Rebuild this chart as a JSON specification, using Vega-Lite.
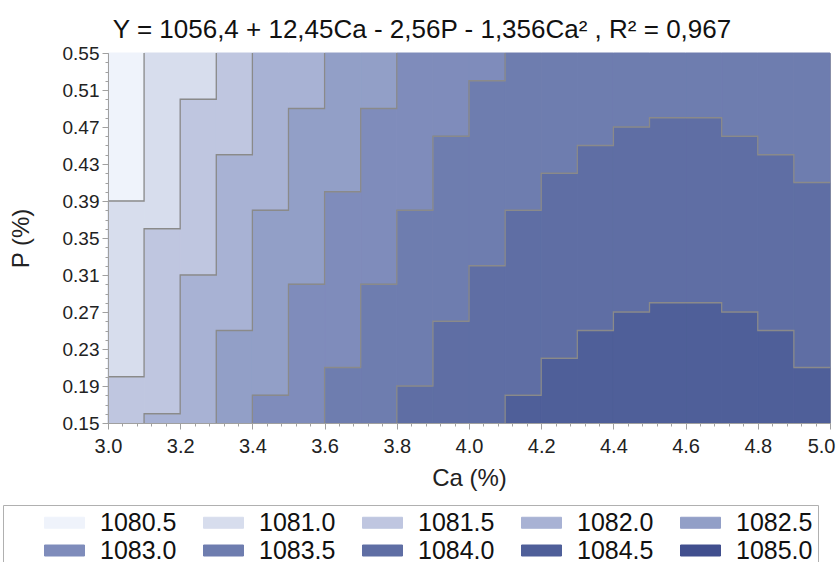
{
  "$schema": "https://vega.github.io/schema/vega-lite/v6.json",
  "autosize": {"type": "none"},
  "width": 722,
  "height": 370,
  "padding": {"left": 108, "top": 53, "right": 8, "bottom": 139},
  "background": "white",
  "config": {
    "font": "Liberation Sans",
    "view": {"stroke": "#a0a0a0", "strokeWidth": 1},
    "axis": {"labelFont": "Liberation Sans", "titleFont": "Liberation Sans", "labelColor": "#222", "titleColor": "#222", "domainColor": "#a0a0a0", "tickColor": "#a0a0a0", "grid": false, "titleFontWeight": "normal"},
    "legend": {"symbolStrokeColor": "#888888", "symbolStrokeWidth": 1}
  },
  "title": {"text": "Y = 1056,4 + 12,45Ca - 2,56P - 1,356Ca² , R² = 0,967", "fontSize": 26, "fontWeight": "normal", "font": "Liberation Sans", "color": "#111", "offset": 1, "anchor": "middle", "dx": -47},
  "datasets": {
    "cells": [
      {"ca0": 3.0, "ca1": 3.1, "p0": 0.39, "p1": 0.55, "level": "1080.5"},
      {"ca0": 3.0, "ca1": 3.1, "p0": 0.20, "p1": 0.39, "level": "1081.0"},
      {"ca0": 3.0, "ca1": 3.1, "p0": 0.15, "p1": 0.20, "level": "1081.5"},
      {"ca0": 3.1, "ca1": 3.2, "p0": 0.36, "p1": 0.55, "level": "1081.0"},
      {"ca0": 3.1, "ca1": 3.2, "p0": 0.16, "p1": 0.36, "level": "1081.5"},
      {"ca0": 3.1, "ca1": 3.2, "p0": 0.15, "p1": 0.16, "level": "1082.0"},
      {"ca0": 3.2, "ca1": 3.3, "p0": 0.50, "p1": 0.55, "level": "1081.0"},
      {"ca0": 3.2, "ca1": 3.3, "p0": 0.31, "p1": 0.50, "level": "1081.5"},
      {"ca0": 3.2, "ca1": 3.3, "p0": 0.15, "p1": 0.31, "level": "1082.0"},
      {"ca0": 3.3, "ca1": 3.4, "p0": 0.44, "p1": 0.55, "level": "1081.5"},
      {"ca0": 3.3, "ca1": 3.4, "p0": 0.25, "p1": 0.44, "level": "1082.0"},
      {"ca0": 3.3, "ca1": 3.4, "p0": 0.15, "p1": 0.25, "level": "1082.5"},
      {"ca0": 3.4, "ca1": 3.5, "p0": 0.38, "p1": 0.55, "level": "1082.0"},
      {"ca0": 3.4, "ca1": 3.5, "p0": 0.18, "p1": 0.38, "level": "1082.5"},
      {"ca0": 3.4, "ca1": 3.5, "p0": 0.15, "p1": 0.18, "level": "1083.0"},
      {"ca0": 3.5, "ca1": 3.6, "p0": 0.49, "p1": 0.55, "level": "1082.0"},
      {"ca0": 3.5, "ca1": 3.6, "p0": 0.30, "p1": 0.49, "level": "1082.5"},
      {"ca0": 3.5, "ca1": 3.6, "p0": 0.15, "p1": 0.30, "level": "1083.0"},
      {"ca0": 3.6, "ca1": 3.7, "p0": 0.40, "p1": 0.55, "level": "1082.5"},
      {"ca0": 3.6, "ca1": 3.7, "p0": 0.21, "p1": 0.40, "level": "1083.0"},
      {"ca0": 3.6, "ca1": 3.7, "p0": 0.15, "p1": 0.21, "level": "1083.5"},
      {"ca0": 3.7, "ca1": 3.8, "p0": 0.49, "p1": 0.55, "level": "1082.5"},
      {"ca0": 3.7, "ca1": 3.8, "p0": 0.30, "p1": 0.49, "level": "1083.0"},
      {"ca0": 3.7, "ca1": 3.8, "p0": 0.15, "p1": 0.30, "level": "1083.5"},
      {"ca0": 3.8, "ca1": 3.9, "p0": 0.38, "p1": 0.55, "level": "1083.0"},
      {"ca0": 3.8, "ca1": 3.9, "p0": 0.19, "p1": 0.38, "level": "1083.5"},
      {"ca0": 3.8, "ca1": 3.9, "p0": 0.15, "p1": 0.19, "level": "1084.0"},
      {"ca0": 3.9, "ca1": 4.0, "p0": 0.46, "p1": 0.55, "level": "1083.0"},
      {"ca0": 3.9, "ca1": 4.0, "p0": 0.26, "p1": 0.46, "level": "1083.5"},
      {"ca0": 3.9, "ca1": 4.0, "p0": 0.15, "p1": 0.26, "level": "1084.0"},
      {"ca0": 4.0, "ca1": 4.1, "p0": 0.52, "p1": 0.55, "level": "1083.0"},
      {"ca0": 4.0, "ca1": 4.1, "p0": 0.32, "p1": 0.52, "level": "1083.5"},
      {"ca0": 4.0, "ca1": 4.1, "p0": 0.15, "p1": 0.32, "level": "1084.0"},
      {"ca0": 4.1, "ca1": 4.2, "p0": 0.38, "p1": 0.55, "level": "1083.5"},
      {"ca0": 4.1, "ca1": 4.2, "p0": 0.18, "p1": 0.38, "level": "1084.0"},
      {"ca0": 4.1, "ca1": 4.2, "p0": 0.15, "p1": 0.18, "level": "1084.5"},
      {"ca0": 4.2, "ca1": 4.3, "p0": 0.42, "p1": 0.55, "level": "1083.5"},
      {"ca0": 4.2, "ca1": 4.3, "p0": 0.22, "p1": 0.42, "level": "1084.0"},
      {"ca0": 4.2, "ca1": 4.3, "p0": 0.15, "p1": 0.22, "level": "1084.5"},
      {"ca0": 4.3, "ca1": 4.4, "p0": 0.45, "p1": 0.55, "level": "1083.5"},
      {"ca0": 4.3, "ca1": 4.4, "p0": 0.25, "p1": 0.45, "level": "1084.0"},
      {"ca0": 4.3, "ca1": 4.4, "p0": 0.15, "p1": 0.25, "level": "1084.5"},
      {"ca0": 4.4, "ca1": 4.5, "p0": 0.47, "p1": 0.55, "level": "1083.5"},
      {"ca0": 4.4, "ca1": 4.5, "p0": 0.27, "p1": 0.47, "level": "1084.0"},
      {"ca0": 4.4, "ca1": 4.5, "p0": 0.15, "p1": 0.27, "level": "1084.5"},
      {"ca0": 4.5, "ca1": 4.6, "p0": 0.48, "p1": 0.55, "level": "1083.5"},
      {"ca0": 4.5, "ca1": 4.6, "p0": 0.28, "p1": 0.48, "level": "1084.0"},
      {"ca0": 4.5, "ca1": 4.6, "p0": 0.15, "p1": 0.28, "level": "1084.5"},
      {"ca0": 4.6, "ca1": 4.7, "p0": 0.48, "p1": 0.55, "level": "1083.5"},
      {"ca0": 4.6, "ca1": 4.7, "p0": 0.28, "p1": 0.48, "level": "1084.0"},
      {"ca0": 4.6, "ca1": 4.7, "p0": 0.15, "p1": 0.28, "level": "1084.5"},
      {"ca0": 4.7, "ca1": 4.8, "p0": 0.46, "p1": 0.55, "level": "1083.5"},
      {"ca0": 4.7, "ca1": 4.8, "p0": 0.27, "p1": 0.46, "level": "1084.0"},
      {"ca0": 4.7, "ca1": 4.8, "p0": 0.15, "p1": 0.27, "level": "1084.5"},
      {"ca0": 4.8, "ca1": 4.9, "p0": 0.44, "p1": 0.55, "level": "1083.5"},
      {"ca0": 4.8, "ca1": 4.9, "p0": 0.25, "p1": 0.44, "level": "1084.0"},
      {"ca0": 4.8, "ca1": 4.9, "p0": 0.15, "p1": 0.25, "level": "1084.5"},
      {"ca0": 4.9, "ca1": 5.0, "p0": 0.41, "p1": 0.55, "level": "1083.5"},
      {"ca0": 4.9, "ca1": 5.0, "p0": 0.21, "p1": 0.41, "level": "1084.0"},
      {"ca0": 4.9, "ca1": 5.0, "p0": 0.15, "p1": 0.21, "level": "1084.5"}
    ],
    "contours": [
      {"c": "AB", "s": 1, "ca": 3.0, "p": 0.39}, {"c": "AB", "s": 2, "ca": 3.1, "p": 0.39}, {"c": "AB", "s": 3, "ca": 3.1, "p": 0.55},
      {"c": "BC", "s": 1, "ca": 3.0, "p": 0.20}, {"c": "BC", "s": 2, "ca": 3.1, "p": 0.20}, {"c": "BC", "s": 3, "ca": 3.1, "p": 0.36}, {"c": "BC", "s": 4, "ca": 3.2, "p": 0.36}, {"c": "BC", "s": 5, "ca": 3.2, "p": 0.50}, {"c": "BC", "s": 6, "ca": 3.3, "p": 0.50}, {"c": "BC", "s": 7, "ca": 3.3, "p": 0.55},
      {"c": "CD", "s": 1, "ca": 3.1, "p": 0.15}, {"c": "CD", "s": 2, "ca": 3.1, "p": 0.16}, {"c": "CD", "s": 3, "ca": 3.2, "p": 0.16}, {"c": "CD", "s": 4, "ca": 3.2, "p": 0.31}, {"c": "CD", "s": 5, "ca": 3.3, "p": 0.31}, {"c": "CD", "s": 6, "ca": 3.3, "p": 0.44}, {"c": "CD", "s": 7, "ca": 3.4, "p": 0.44}, {"c": "CD", "s": 8, "ca": 3.4, "p": 0.55},
      {"c": "DE", "s": 1, "ca": 3.3, "p": 0.15}, {"c": "DE", "s": 2, "ca": 3.3, "p": 0.25}, {"c": "DE", "s": 3, "ca": 3.4, "p": 0.25}, {"c": "DE", "s": 4, "ca": 3.4, "p": 0.38}, {"c": "DE", "s": 5, "ca": 3.5, "p": 0.38}, {"c": "DE", "s": 6, "ca": 3.5, "p": 0.49}, {"c": "DE", "s": 7, "ca": 3.6, "p": 0.49}, {"c": "DE", "s": 8, "ca": 3.6, "p": 0.55},
      {"c": "EF", "s": 1, "ca": 3.4, "p": 0.15}, {"c": "EF", "s": 2, "ca": 3.4, "p": 0.18}, {"c": "EF", "s": 3, "ca": 3.5, "p": 0.18}, {"c": "EF", "s": 4, "ca": 3.5, "p": 0.30}, {"c": "EF", "s": 5, "ca": 3.6, "p": 0.30}, {"c": "EF", "s": 6, "ca": 3.6, "p": 0.40}, {"c": "EF", "s": 7, "ca": 3.7, "p": 0.40}, {"c": "EF", "s": 8, "ca": 3.7, "p": 0.49}, {"c": "EF", "s": 9, "ca": 3.8, "p": 0.49}, {"c": "EF", "s": 10, "ca": 3.8, "p": 0.55},
      {"c": "FG", "s": 1, "ca": 3.6, "p": 0.15}, {"c": "FG", "s": 2, "ca": 3.6, "p": 0.21}, {"c": "FG", "s": 3, "ca": 3.7, "p": 0.21}, {"c": "FG", "s": 4, "ca": 3.7, "p": 0.30}, {"c": "FG", "s": 5, "ca": 3.8, "p": 0.30}, {"c": "FG", "s": 6, "ca": 3.8, "p": 0.38}, {"c": "FG", "s": 7, "ca": 3.9, "p": 0.38}, {"c": "FG", "s": 8, "ca": 3.9, "p": 0.46}, {"c": "FG", "s": 9, "ca": 4.0, "p": 0.46}, {"c": "FG", "s": 10, "ca": 4.0, "p": 0.52}, {"c": "FG", "s": 11, "ca": 4.1, "p": 0.52}, {"c": "FG", "s": 12, "ca": 4.1, "p": 0.55},
      {"c": "GH", "s": 1, "ca": 3.8, "p": 0.15}, {"c": "GH", "s": 2, "ca": 3.8, "p": 0.19}, {"c": "GH", "s": 3, "ca": 3.9, "p": 0.19}, {"c": "GH", "s": 4, "ca": 3.9, "p": 0.26}, {"c": "GH", "s": 5, "ca": 4.0, "p": 0.26}, {"c": "GH", "s": 6, "ca": 4.0, "p": 0.32}, {"c": "GH", "s": 7, "ca": 4.1, "p": 0.32}, {"c": "GH", "s": 8, "ca": 4.1, "p": 0.38}, {"c": "GH", "s": 9, "ca": 4.2, "p": 0.38}, {"c": "GH", "s": 10, "ca": 4.2, "p": 0.42}, {"c": "GH", "s": 11, "ca": 4.3, "p": 0.42}, {"c": "GH", "s": 12, "ca": 4.3, "p": 0.45}, {"c": "GH", "s": 13, "ca": 4.4, "p": 0.45}, {"c": "GH", "s": 14, "ca": 4.4, "p": 0.47}, {"c": "GH", "s": 15, "ca": 4.5, "p": 0.47}, {"c": "GH", "s": 16, "ca": 4.5, "p": 0.48}, {"c": "GH", "s": 17, "ca": 4.7, "p": 0.48}, {"c": "GH", "s": 18, "ca": 4.7, "p": 0.46}, {"c": "GH", "s": 19, "ca": 4.8, "p": 0.46}, {"c": "GH", "s": 20, "ca": 4.8, "p": 0.44}, {"c": "GH", "s": 21, "ca": 4.9, "p": 0.44}, {"c": "GH", "s": 22, "ca": 4.9, "p": 0.41}, {"c": "GH", "s": 23, "ca": 5.0, "p": 0.41},
      {"c": "HI", "s": 1, "ca": 4.1, "p": 0.15}, {"c": "HI", "s": 2, "ca": 4.1, "p": 0.18}, {"c": "HI", "s": 3, "ca": 4.2, "p": 0.18}, {"c": "HI", "s": 4, "ca": 4.2, "p": 0.22}, {"c": "HI", "s": 5, "ca": 4.3, "p": 0.22}, {"c": "HI", "s": 6, "ca": 4.3, "p": 0.25}, {"c": "HI", "s": 7, "ca": 4.4, "p": 0.25}, {"c": "HI", "s": 8, "ca": 4.4, "p": 0.27}, {"c": "HI", "s": 9, "ca": 4.5, "p": 0.27}, {"c": "HI", "s": 10, "ca": 4.5, "p": 0.28}, {"c": "HI", "s": 11, "ca": 4.7, "p": 0.28}, {"c": "HI", "s": 12, "ca": 4.7, "p": 0.27}, {"c": "HI", "s": 13, "ca": 4.8, "p": 0.27}, {"c": "HI", "s": 14, "ca": 4.8, "p": 0.25}, {"c": "HI", "s": 15, "ca": 4.9, "p": 0.25}, {"c": "HI", "s": 16, "ca": 4.9, "p": 0.21}, {"c": "HI", "s": 17, "ca": 5.0, "p": 0.21}
    ]
  },
  "layer": [
    {
      "data": {"name": "cells"},
      "mark": {"type": "rect"},
      "encoding": {
        "x": {"field": "ca0", "type": "quantitative", "scale": {"domain": [3, 5], "nice": false, "zero": false},
              "axis": {"title": "Ca (%)", "values": [3.0, 3.2, 3.4, 3.6, 3.8, 4.0, 4.2, 4.4, 4.6, 4.8, 5.0], "format": ".1f", "labelFontSize": 20, "titleFontSize": 24, "tickSize": 6, "labelPadding": 7, "titlePadding": 10, "labelFlush": false, "zindex": 1,
                       "labelAlign": {"condition": {"test": "datum.value >= 4.99", "value": "right"}, "value": "center"},
                       "labelOffset": {"condition": {"test": "datum.value >= 4.99", "value": 5}, "value": 0}}},
        "x2": {"field": "ca1"},
        "y": {"field": "p0", "type": "quantitative", "scale": {"domain": [0.15, 0.55], "nice": false, "zero": false},
              "axis": {"title": "P (%)", "values": [0.15, 0.19, 0.23, 0.27, 0.31, 0.35, 0.39, 0.43, 0.47, 0.51, 0.55], "format": ".2f", "labelFontSize": 19, "titleFontSize": 24, "tickSize": 6, "labelPadding": 3, "titlePadding": 29, "zindex": 1}},
        "y2": {"field": "p1"},
        "color": {"field": "level", "type": "nominal",
          "scale": {"domain": ["1080.5", "1081.0", "1081.5", "1082.0", "1082.5", "1083.0", "1083.5", "1084.0", "1084.5", "1085.0"],
                    "range": ["#eff3fb", "#d7dded", "#bfc6e0", "#a8b2d4", "#929fc7", "#7f8cbb", "#6e7daf", "#5f6ea4", "#4f5f99", "#414f8e"]},
          "legend": {"title": " ", "titleOrient": "left", "titlePadding": 47, "titleFontSize": 4, "orient": "none", "legendX": -105, "legendY": 452, "columns": 5, "direction": "horizontal",
                     "symbolType": "M-2.3,-0.55H1.7V0.55H-2.3Z", "symbolSize": 400, "symbolOffset": 0, "symbolStrokeColor": "#888888", "symbolStrokeWidth": 1,
                     "labelFontSize": 25, "labelFont": "Liberation Sans", "labelColor": "#111", "labelOffset": 20, "columnPadding": 24, "rowPadding": 2,
                     "padding": 5, "strokeColor": "#b0b0b0", "fillColor": "white"}}
      }
    },
    {
      "data": {"name": "cells"},
      "mark": {"type": "rect", "filled": false, "strokeWidth": 1},
      "encoding": {
        "x": {"field": "ca0", "type": "quantitative", "axis": null},
        "x2": {"field": "ca1"},
        "y": {"field": "p0", "type": "quantitative", "axis": null},
        "y2": {"field": "p1"},
        "stroke": {"field": "level", "type": "nominal", "legend": null,
          "scale": {"domain": ["1080.5", "1081.0", "1081.5", "1082.0", "1082.5", "1083.0", "1083.5", "1084.0", "1084.5", "1085.0"],
                    "range": ["#eff3fb", "#d7dded", "#bfc6e0", "#a8b2d4", "#929fc7", "#7f8cbb", "#6e7daf", "#5f6ea4", "#4f5f99", "#414f8e"]}}
      }
    },
    {
      "data": {"name": "contours"},
      "mark": {"type": "line", "color": "#8a8a8a", "strokeWidth": 1.3, "interpolate": "linear"},
      "encoding": {
        "x": {"field": "ca", "type": "quantitative", "axis": {"title": null, "labels": false, "domain": false, "tickSize": 3, "orient": "bottom", "zindex": 1,
              "values": [3.0,3.04,3.08,3.12,3.16,3.2,3.24,3.28,3.32,3.36,3.4,3.44,3.48,3.52,3.56,3.6,3.64,3.68,3.72,3.76,3.8,3.84,3.88,3.92,3.96,4.0,4.04,4.08,4.12,4.16,4.2,4.24,4.28,4.32,4.36,4.4,4.44,4.48,4.52,4.56,4.6,4.64,4.68,4.72,4.76,4.8,4.84,4.88,4.92,4.96,5.0]}},
        "y": {"field": "p", "type": "quantitative", "axis": {"title": null, "labels": false, "domain": false, "tickSize": 3, "orient": "left", "zindex": 1,
              "values": [0.15,0.16,0.17,0.18,0.19,0.2,0.21,0.22,0.23,0.24,0.25,0.26,0.27,0.28,0.29,0.3,0.31,0.32,0.33,0.34,0.35,0.36,0.37,0.38,0.39,0.4,0.41,0.42,0.43,0.44,0.45,0.46,0.47,0.48,0.49,0.5,0.51,0.52,0.53,0.54,0.55]}},
        "detail": {"field": "c", "type": "nominal"},
        "order": {"field": "s", "type": "quantitative"}
      }
    }
  ],
  "resolve": {"axis": {"x": "independent", "y": "independent"}}
}
